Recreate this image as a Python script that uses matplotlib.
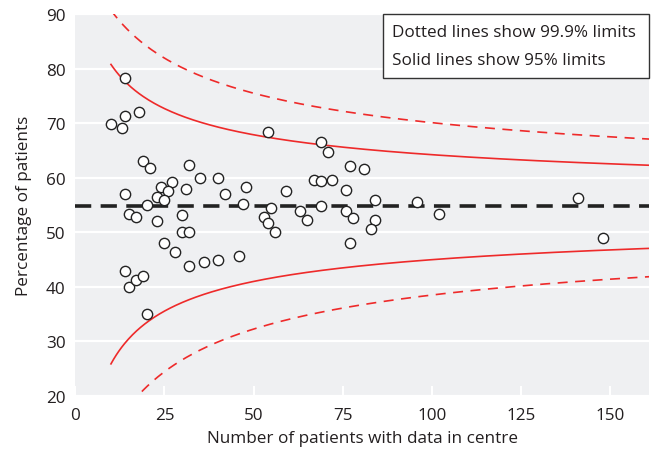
import numpy as np
import matplotlib
matplotlib.use("Agg")
import matplotlib.pyplot as plt
from matplotlib.patches import Rectangle

plt.rcParams['font.family'] = ['Open Sans', 'DejaVu Sans']

# centre size and % of patients for each centre
n_patients = [10, 13, 14, 14, 18, 19, 21, 14, 15, 17, 20, 23, 24, 27, 26, 23, 25, 25, 28,
              14, 15, 17, 19, 20, 30, 30, 32, 54, 32, 35, 40, 31, 42, 48, 47, 55, 53, 54,
              56, 32, 36, 40, 46, 69, 71, 77, 81, 67, 69, 72, 59, 76, 69, 63, 65, 76, 78,
              84, 84, 83, 77, 96, 102, 141, 148]
pct = [69.9, 69.1, 78.3, 71.3, 72.1, 63.1, 61.9, 57.1, 53.3, 52.9, 55.0, 52.1, 58.4, 59.2,
       57.6, 56.4, 55.9, 48.0, 46.4, 42.9, 40.0, 41.2, 42.0, 35.0, 53.2, 50.0, 50.0, 68.4,
       62.4, 59.9, 59.9, 58.0, 57.0, 58.3, 55.2, 54.5, 52.8, 51.8, 50.0, 43.8, 44.5, 45.0,
       45.7, 66.5, 64.7, 62.2, 61.6, 59.6, 59.4, 59.6, 57.6, 57.8, 54.9, 53.9, 52.3, 53.9,
       52.6, 55.9, 52.3, 50.6, 48.0, 55.6, 53.4, 56.3, 48.9]

overall = 54.8          # overall percentage
z95, z999 = 1.96, 3.29  # normal quantiles for 95% and 99.9%
n_min, n_max = 10, 161

xticks = [0, 25, 50, 75, 100, 125, 150]
yticks = [20, 30, 40, 50, 60, 70, 80, 90]

text_col = '#231f20'
red = '#ee2a2a'
fs = 12.3


def limits(n, z):
    # funnel limits worked out on the logit scale
    p = overall / 100
    lp = np.log(p / (1 - p))
    se = 1 / np.sqrt(n * p * (1 - p))
    lo = 1 / (1 + np.exp(-(lp - z * se)))
    hi = 1 / (1 + np.exp(-(lp + z * se)))
    return lo * 100, hi * 100


fig = plt.figure(figsize=(6.55, 4.52), dpi=100)
ax = fig.add_axes([0.115, 0.122, 0.876, 0.844])
ax.set_facecolor('#eff0f2')

n = np.linspace(n_min, n_max, 400)
lo95, hi95 = limits(n, z95)
lo999, hi999 = limits(n, z999)
ax.plot(n, hi95, color=red, lw=1.2, zorder=2)
ax.plot(n, lo95, color=red, lw=1.2, zorder=2)
ax.plot(n, hi999, color=red, lw=1.2, dashes=(6, 4.5), zorder=2)
ax.plot(n, lo999, color=red, lw=1.2, dashes=(6, 4.5), zorder=2)

ax.axhline(overall, color='#222222', lw=2.6, dashes=(4.5, 2.6), zorder=3)

ax.scatter(n_patients, pct, s=55, facecolor='white', edgecolor='#222222',
           linewidths=1.0, zorder=4)

ax.set_xlim(0, n_max)
ax.set_ylim(20, 90)
ax.set_xticks(xticks)
ax.set_yticks(yticks)
ax.yaxis.grid(True, color='white', lw=1.6)
ax.set_axisbelow(True)
for s in ax.spines.values():
    s.set_visible(False)
ax.tick_params(axis='x', direction='in', length=7, width=1.5, color='white',
               labelsize=fs, labelcolor=text_col, pad=8)
ax.tick_params(axis='y', length=0, labelsize=fs, labelcolor=text_col, pad=7)

ax.set_xlabel('Number of patients with data in centre', fontsize=fs,
              color=text_col, labelpad=5)
ax.set_ylabel('Percentage of patients', fontsize=fs, color=text_col, labelpad=10)

# key box in the top right corner
box = Rectangle((0.536, 0.833), 0.464, 0.167, transform=ax.transAxes,
                facecolor='white', edgecolor='#333333', lw=1.0,
                clip_on=False, zorder=6)
ax.add_patch(box)
ax.text(0.552, 0.953, 'Dotted lines show 99.9% limits', transform=ax.transAxes,
        fontsize=fs, color=text_col, va='center', zorder=7)
ax.text(0.552, 0.881, 'Solid lines show 95% limits', transform=ax.transAxes,
        fontsize=fs, color=text_col, va='center', zorder=7)

fig.savefig('out.png', dpi=100)
